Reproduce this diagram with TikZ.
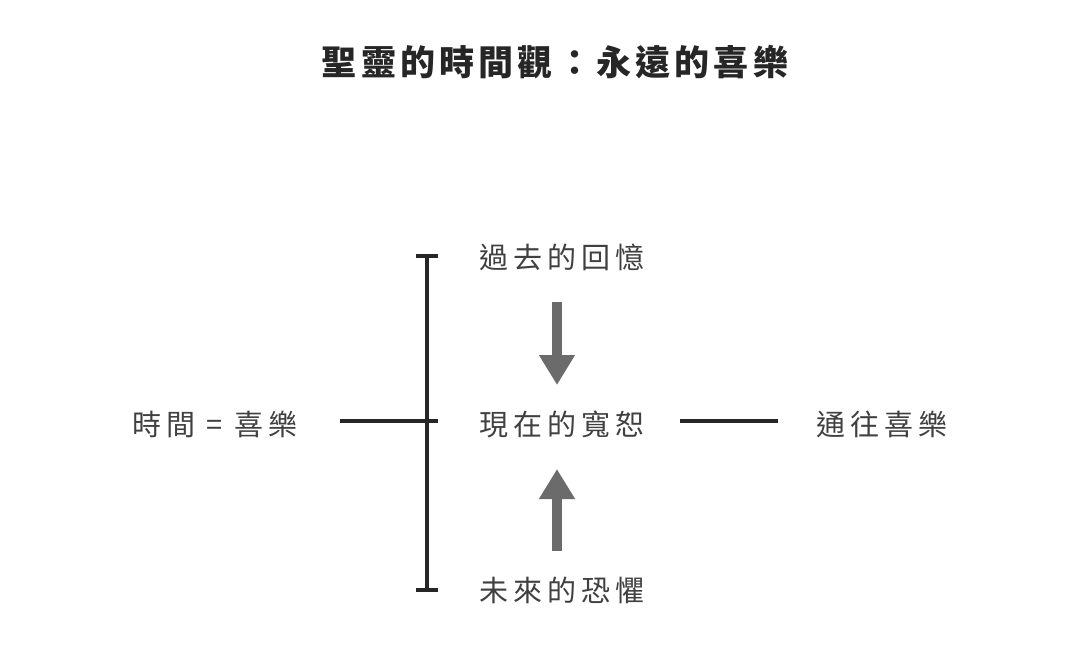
\documentclass[tikz,border=0pt]{standalone}
\usepackage{fontspec}
\newfontfamily\cjk[LetterSpace=18]{Noto Sans CJK TC}
\newfontfamily\cjkt[LetterSpace=12]{Noto Sans CJK TC}
\usetikzlibrary{arrows.meta}
\begin{document}
\begin{tikzpicture}[x=1pt,y=-1pt,
  lbl/.style={font=\cjk\fontsize{29}{29}\selectfont, text=black!75, inner sep=0pt},
  ln/.style={line width=3.5pt, draw=black!85},
  arr/.style={line width=10pt, draw=black!58, -{Triangle[width=34pt,length=30pt]}}]
\useasboundingbox (0,0) rectangle (1080,653);
\node[font=\cjkt\bfseries\fontsize{35}{35}\selectfont, text=black!85] (title) at (555,62) {聖靈的時間觀：永遠的喜樂};
\node[lbl] (past) at (562,257) {過去的回憶};
\node[lbl] (now) at (562,424) {現在的寬恕};
\node[lbl] (fut) at (562,590) {未來的恐懼};
\node[lbl] (left) at (215,424) {時間 = 喜樂};
\node[lbl] (right) at (882,424) {通往喜樂};
\coordinate (bt) at (427,256);
\coordinate (bb) at (427,590);
\coordinate (hl) at (340,421);
\coordinate (hr) at (438,421);
\coordinate (rl) at (680,421);
\coordinate (rr) at (778,421);
\draw[ln] (bt) -- (bb);
\draw[ln] (416,256) -- (438,256);
\draw[ln] (416,590) -- (438,590);
\draw[ln] (hl) -- (hr);
\draw[ln] (rl) -- (rr);
\coordinate (a1) at (557,302);
\coordinate (a2) at (557,385);
\coordinate (b1) at (557,551);
\coordinate (b2) at (557,469);
\draw[arr] (a1) -- (a2);
\draw[arr] (b1) -- (b2);
\end{tikzpicture}
\end{document}
